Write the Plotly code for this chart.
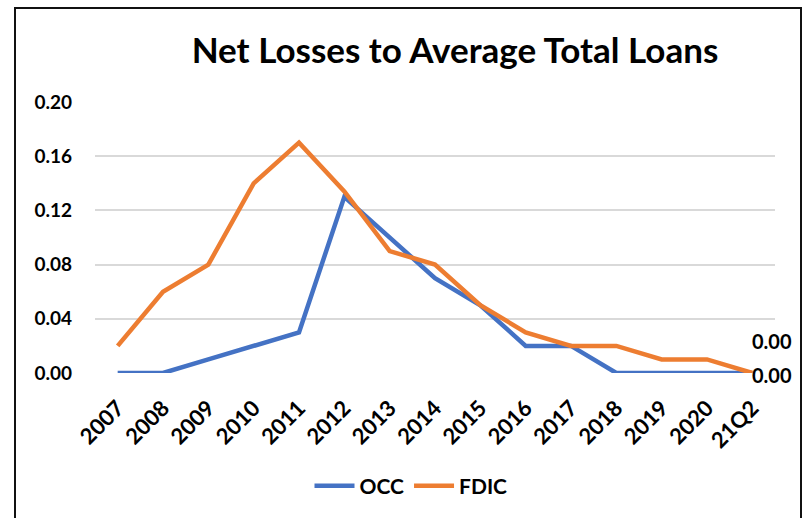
import plotly.graph_objects as go

categories = ["2007", "2008", "2009", "2010", "2011", "2012", "2013", "2014",
              "2015", "2016", "2017", "2018", "2019", "2020", "21Q2"]
occ = [0.00, 0.00, 0.01, 0.02, 0.03, 0.13, 0.10, 0.07, 0.05, 0.02, 0.02, 0.00, 0.00, 0.00, 0.00]
fdic = [0.02, 0.06, 0.08, 0.14, 0.17, 0.134, 0.09, 0.08, 0.05, 0.03, 0.02, 0.02, 0.01, 0.01, 0.00]
y_ticks = [0.00, 0.04, 0.08, 0.12, 0.16, 0.20]
title_text = "Net Losses to Average Total Loans"

FONT = "Lato, 'Open Sans', sans-serif"
W, H = 804, 518
L, R, T, B = 95, 29, 102, 145
pw, ph = W - L - R, H - T - B

fig = go.Figure()
fig.add_trace(go.Scatter(x=categories, y=occ, name="OCC", mode="lines",
                         line=dict(color="#4472C4", width=4.5)))
fig.add_trace(go.Scatter(x=categories, y=fdic, name="FDIC", mode="lines",
                         line=dict(color="#ED7D31", width=4.5)))

# end-point data labels
fig.add_annotation(x=categories[-1], y=occ[-1], text=f"{occ[-1]:.2f}", showarrow=False,
                   xanchor="left", yanchor="middle", yshift=32, xshift=-2,
                   font=dict(family=FONT, size=20, color="black", weight="bold"))
fig.add_annotation(x=categories[-1], y=fdic[-1], text=f"{fdic[-1]:.2f}", showarrow=False,
                   xanchor="left", yanchor="middle", yshift=-2, xshift=-2,
                   font=dict(family=FONT, size=20, color="black", weight="bold"))

# outer chart border
def px_x(p):
    return (p - L) / pw
def px_y(p):
    return (H - B - p) / ph
fig.add_shape(type="rect", xref="paper", yref="paper",
              x0=px_x(15), x1=px_x(801), y0=px_y(530), y1=px_y(8),
              line=dict(color="#111111", width=2), fillcolor="rgba(0,0,0,0)", layer="below")

fig.update_layout(
    width=W, height=H,
    margin=dict(l=L, r=R, t=T, b=B, autoexpand=False),
    paper_bgcolor="white", plot_bgcolor="white",
    title=dict(text=title_text, x=455 / W, xref="container", xanchor="center",
               y=1 - 51 / H, yref="container", yanchor="middle",
               font=dict(family=FONT, size=35, color="black", weight="bold")),
    font=dict(family=FONT, color="black"),
    showlegend=True,
    legend=dict(orientation="h", x=px_x(411), xanchor="center",
                y=px_y(486), yanchor="middle",
                font=dict(family=FONT, size=21, color="black", weight="bold"),
                itemwidth=40),
    xaxis=dict(type="category", range=[-0.5, len(categories) - 0.5], automargin=False,
               showgrid=False, showline=False, zeroline=False, ticks="",
               ticklabelstandoff=17,
               tickangle=-45, tickfont=dict(family=FONT, size=22, color="black", weight="bold")),
    yaxis=dict(range=[0, 0.2], tickvals=y_ticks, ticktext=[f"{v:.2f}" for v in y_ticks],
               automargin=False,
               showgrid=True, gridcolor="#d9d9d9", gridwidth=1.5, zeroline=False,
               showline=False, ticks="", ticklabelstandoff=22,
               tickfont=dict(family=FONT, size=19, color="black", weight="bold")),
)

fig.write_html("out.html", config={"displayModeBar": False},
               post_script="document.body.style.margin='0';")
